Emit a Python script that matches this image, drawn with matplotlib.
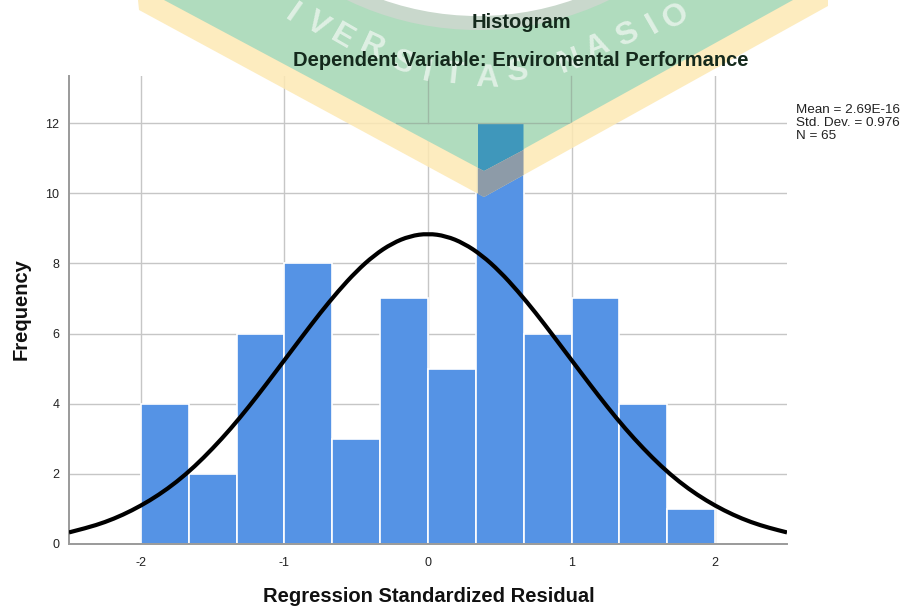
"""Histogram of regression residuals with normal curve and a watermark on top."""

import matplotlib
matplotlib.use("Agg")
import matplotlib.pyplot as plt
from matplotlib.patches import Circle, PathPatch, Polygon
from matplotlib.path import Path

plt.rcParams["font.family"] = ["Liberation Sans", "DejaVu Sans"]
plt.rcParams["axes.unicode_minus"] = False

BIN_LEFT = [-2.0, -5/3, -4/3, -1.0, -2/3, -1/3, 0.0, 1/3, 2/3, 1.0, 4/3, 5/3]
COUNTS = [4, 2, 6, 8, 3, 7, 5, 12, 6, 7, 4, 1]
BIN_WIDTH = 1/3

# curve
CURVE_X = [-2.5, -2.375, -2.25, -2.125, -2.0, -1.875, -1.75, -1.625, -1.5, -1.375,
           -1.25, -1.125, -1.0, -0.875, -0.75, -0.625, -0.5, -0.375, -0.25, -0.125,
           0.0, 0.125, 0.25, 0.375, 0.5, 0.625, 0.75, 0.875, 1.0, 1.125,
           1.25, 1.375, 1.5, 1.625, 1.75, 1.875, 2.0, 2.125, 2.25, 2.375, 2.5]
CURVE_Y = [0.33, 0.46, 0.62, 0.83, 1.09, 1.40, 1.77, 2.21, 2.72, 3.28,
           3.90, 4.56, 5.24, 5.92, 6.59, 7.21, 7.77, 8.23, 8.57, 8.78,
           8.85, 8.78, 8.57, 8.23, 7.77, 7.21, 6.59, 5.92, 5.24, 4.56,
           3.90, 3.28, 2.72, 2.21, 1.77, 1.40, 1.09, 0.83, 0.62, 0.46, 0.33]

X_TICKS = [-2, -1, 0, 1, 2]
Y_TICKS = [0, 2, 4, 6, 8, 10, 12]
STATS = "Mean = 2.69E-16\nStd. Dev. = 0.976\nN = 65"

W, H = 904, 607
GRID = "#c6c6c6"
AXIS = "#9a9a9a"
BAR = "#5593e5"
TITLE_SIZE = 14.5

fig = plt.figure(figsize=(W / 100, H / 100), dpi=100, facecolor="white")
ax = fig.add_axes([69 / W, 1 - 544 / H, (787 - 69) / W, (544 - 76) / H])
ax.bar(BIN_LEFT, COUNTS, width=BIN_WIDTH, align="edge", color=BAR,
       edgecolor="white", linewidth=1.2, zorder=2)

# smooth the read points with quadratic segments so no corners show
verts = [(CURVE_X[0], CURVE_Y[0])]
codes = [Path.MOVETO]
for i in range(1, len(CURVE_X) - 1):
    verts.append((CURVE_X[i], CURVE_Y[i]))
    verts.append(((CURVE_X[i] + CURVE_X[i + 1]) / 2, (CURVE_Y[i] + CURVE_Y[i + 1]) / 2))
    codes += [Path.CURVE3, Path.CURVE3]
verts.append((CURVE_X[-1], CURVE_Y[-1]))
codes.append(Path.LINETO)
ax.add_patch(PathPatch(Path(verts, codes), facecolor="none", edgecolor="black",
                       linewidth=3.0, zorder=3))

ax.set_xlim(-2.5, 2.5)
ax.set_ylim(0, 13.34)
ax.set_xticks(X_TICKS)
ax.set_yticks(Y_TICKS)
ax.grid(True, color=GRID, linewidth=1.0, zorder=1)
ax.set_axisbelow(True)
ax.tick_params(length=0, labelsize=9, colors="#222222", pad=7)
ax.tick_params(axis="x", pad=9)
for side in ("top", "right"):
    ax.spines[side].set_visible(False)
for side in ("left", "bottom"):
    ax.spines[side].set_color(AXIS)
    ax.spines[side].set_linewidth(1.4)

# overlay in pixel coordinates for the text and the watermark
over = fig.add_axes([0, 0, 1, 1], zorder=5)
over.set_xlim(0, W)
over.set_ylim(H, 0)
over.axis("off")

over.add_patch(Polygon([(138, 0), (139, 10), (484, 197), (828, 6), (828, 0)],
                       closed=True, facecolor="#fde9b4", edgecolor="none", alpha=0.85))
green = Polygon([(164, 0), (484, 171), (793, 0)],
                closed=True, facecolor="#b0dcbe", edgecolor="none", zorder=2)
over.add_patch(green)
# the bar shows through the watermark
over.add_patch(Polygon([(478, 123), (523.5, 123), (523.5, 150), (484, 171), (478, 168)],
                       closed=True, facecolor="#3f97bb", edgecolor="none", zorder=3))
over.add_patch(Polygon([(478, 168), (484, 171), (523.5, 150), (523.5, 175), (484, 197), (478, 194)],
                       closed=True, facecolor="#8d9ba8", edgecolor="none", zorder=3))
over.add_patch(Circle((478, -272), 302, facecolor="#c9d8cc", edgecolor="none", zorder=3))
over.add_patch(Circle((478, -272), 288, facecolor="white", edgecolor="none", zorder=3))

# grid lines stay visible through the green part of the watermark
for seg in ([(428, 76), (428, 123)], [(571.5, 76), (571.5, 123)], [(396, 123), (580, 123)]):
    line, = over.plot(*zip(*seg), color="#9db9a5", linewidth=1.0, zorder=3)
    line.set_clip_path(green)

WM_LETTERS = [("I", 292, 14, -35), ("V", 317, 25, -32), ("E", 342, 37, -30), ("R", 372, 48, -25),
              ("S", 402, 63, -20), ("I", 427, 73, -12), ("T", 453, 75, -6), ("A", 487, 78, -2),
              ("S", 517, 72, 5), ("N", 570, 62, 20), ("A", 597, 47, 22), ("S", 627, 35, 26),
              ("I", 653, 25, 30), ("O", 676, 17, 32)]
for ch, lx, ly, rot in WM_LETTERS:
    over.text(lx, ly, ch, fontsize=23, fontweight="bold", color="#dff0e4", ha="center",
              va="center", rotation=rot, zorder=4)

over.text(521.5, 22, "Histogram", fontsize=TITLE_SIZE, fontweight="bold", color="#14291c",
          ha="center", va="center", zorder=6)
over.text(521, 60, "Dependent Variable: Enviromental Performance", fontsize=TITLE_SIZE,
          fontweight="bold", color="#14291c", ha="center", va="center", zorder=6)
over.text(428.5, 596, "Regression Standardized Residual", fontsize=TITLE_SIZE, fontweight="bold",
          color="#111111", ha="center", va="center")
over.text(21, 309, "Frequency", fontsize=TITLE_SIZE, fontweight="bold", color="#111111",
          ha="center", va="center", rotation=90)
over.text(796, 123, STATS, fontsize=9.7, color="#222222", ha="left", va="center",
          linespacing=1.1)

fig.savefig("out.png", dpi=100)
